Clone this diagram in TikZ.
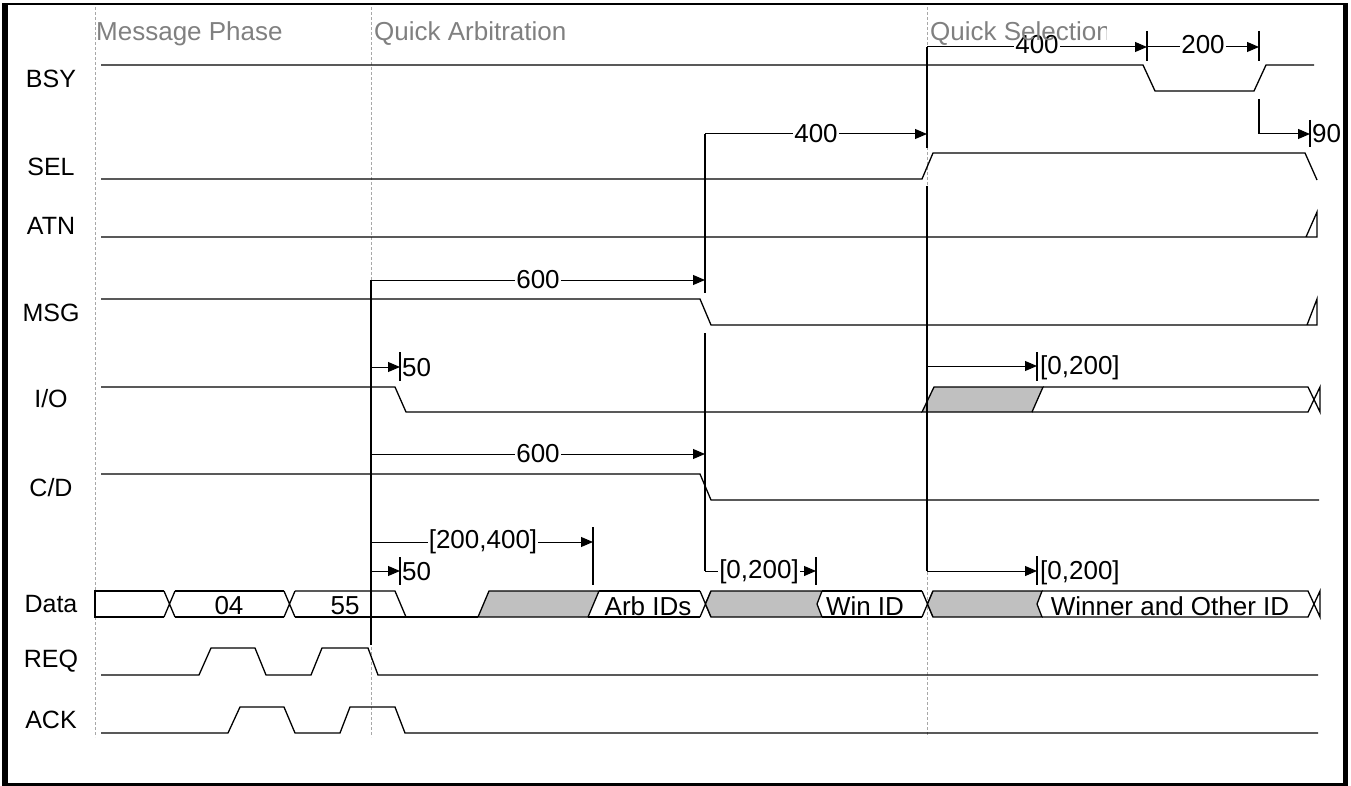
\documentclass[tikz,border=0pt]{standalone}
\usepackage{fontspec}
\setmainfont{Liberation Sans}
\usetikzlibrary{arrows.meta}
\definecolor{busgray}{HTML}{C0C0C0}
\definecolor{phasegray}{HTML}{808080}
\definecolor{dashgray}{HTML}{A8A8A8}
\begin{document}
\begin{tikzpicture}[x=1pt,y=-1pt,
  sig/.style={line width=1.3pt, line join=miter},
  bus/.style={sig, fill=busgray},
  arr/.style={line width=1pt, -{Triangle[length=12pt,width=10pt]}},
  tk/.style={line width=1.1pt},
  boldv/.style={line width=1.9pt},
  lbl/.style={font=\fontsize{26}{30}\selectfont, inner sep=1pt},
  onl/.style={lbl, fill=white},
  sname/.style={font=\fontsize{25}{28}\selectfont, inner sep=0pt},
  phlbl/.style={font=\fontsize{26}{30}\selectfont, text=phasegray, inner sep=0pt, anchor=base west},
  phase/.style={draw=dashgray, line width=0.8pt, dash pattern=on 3pt off 2pt}]
\useasboundingbox (0,0) rectangle (1351,786);
% frame
\fill (2,3) rectangle (1348,5);
\fill (2,3) rectangle (8,786);
\fill (1343,3) rectangle (1348,786);
\fill (2,783) rectangle (1348,786);
% phase separators
\foreach \x in {95,371,927} \draw[phase] (\x,7) -- (\x,737);
% signal names
\node[sname] (nBSY) at (51,79) {BSY};
\node[sname] (nSEL) at (51,167) {SEL};
\node[sname] (nATN) at (51,226) {ATN};
\node[sname] (nMSG) at (51,313) {MSG};
\node[sname] (nIO) at (51,399) {I/O};
\node[sname] (nCD) at (51,488) {C/D};
\node[sname] (nData) at (51,604) {Data};
\node[sname] (nREQ) at (51,661) {REQ};
\node[sname] (nACK) at (51,720) {ACK};
% BSY
\draw[sig] (101,65) -- (1143,65) -- (1155,91) -- (1254,91) -- (1266,65) -- (1314,65);
% SEL
\draw[sig] (101,179) -- (922,179) -- (933,153) -- (1305,153) -- (1317,180);
% ATN
\draw[sig] (101,237) -- (1317,237) -- (1317,212) -- (1306,237);
% MSG
\draw[sig] (101,299) -- (700,299) -- (711,325) -- (1317,325) -- (1317,299) -- (1307,325);
% I/O
\draw[sig] (101,387) -- (395,387) -- (406,412) -- (922,412);
\draw[bus] (922,412) -- (934,387) -- (1043,387) -- (1032,412) -- cycle;
\draw[sig] (1043,387) -- (1308,387) -- (1320,412) -- (1320,387) -- (1308,412) -- (1032,412);
% C/D
\draw[sig] (101,474) -- (700,474) -- (711,500) -- (1319,500);
% Data
\draw[sig] (164,591) -- (95,591) -- (95,617) -- (164,617);
\draw[sig] (164,591) -- (175,617) (164,617) -- (175,591);
\draw[sig] (175,591) -- (284,591) (175,617) -- (284,617);
\draw[sig] (284,591) -- (295,617) (284,617) -- (295,591);
\draw[sig] (295,591) -- (395,591) -- (406,617);
\draw[sig] (295,617) -- (478,617);
\draw[bus] (478,617) -- (489,591) -- (599,591) -- (588,617) -- cycle;
\draw[sig] (599,591) -- (700,591) (588,617) -- (700,617);
\draw[sig] (700,591) -- (711,617) (700,617) -- (711,591);
\draw[bus] (705.5,604) -- (711,591) -- (822,591) -- (817,604) -- (822,617) -- (711,617) -- cycle;
\draw[sig] (822,591) -- (922,591) (822,617) -- (922,617);
\draw[sig] (922,591) -- (933,617) (922,617) -- (933,591);
\draw[bus] (927.5,604) -- (933,591) -- (1042,591) -- (1037,604) -- (1042,617) -- (933,617) -- cycle;
\draw[sig] (1042,591) -- (1308,591) -- (1320,617) -- (1320,591) -- (1308,617) -- (1042,617);
\node[lbl] (d04) at (229,606) {04};
\node[lbl] (d55) at (345,606) {55};
\node[lbl] (dArb) at (648,606) {Arb IDs};
\node[lbl] (dWin) at (865,606) {Win ID};
\node[lbl] (dWinner) at (1170,606) {Winner and Other ID};
% REQ / ACK
\draw[sig] (101,675) -- (199,675) -- (211,648) -- (255,648) -- (266,675) -- (311,675) -- (322,648) -- (368,648) -- (378,675) -- (1318,675);
\draw[sig] (101,733) -- (228,733) -- (240,707) -- (284,707) -- (295,733) -- (340,733) -- (350,707) -- (395,707) -- (405,733) -- (1318,733);
% timing constraints
\draw[boldv] (371,280) -- (371,645);
\draw[arr] (371,280) -- (705,280);
\node[onl] (t600a) at (538,280) {600};
\draw[tk] (705,134) -- (705,293);
\draw[arr] (705,134) -- (927,134);
\node[onl] (t400a) at (816,134) {400};
\draw[boldv] (927,47) -- (927,148);
\draw[boldv] (927,186) -- (927,571);
\draw[arr] (927,47) -- (1147,47);
\node[onl] (t400b) at (1037,45) {400};
\draw[tk] (1147,31) -- (1147,61);
\draw[arr] (1147,47) -- (1259,47);
\node[onl] (t200) at (1203,45) {200};
\draw[tk] (1259,31) -- (1259,61);
\draw[tk] (1259,99) -- (1259,134);
\draw[arr] (1259,134) -- (1310,134);
\draw[tk] (1310,120) -- (1310,147);
\node[lbl, anchor=west] (t90) at (1311,134) {90};
\draw[arr] (371,367) -- (400,367);
\draw[tk] (400,352) -- (400,381);
\node[lbl, anchor=west] (t50a) at (401,368) {50};
\draw[arr] (371,454) -- (705,454);
\node[onl] (t600b) at (538,454) {600};
\draw[tk] (705,333) -- (705,571);
\draw[arr] (371,542) -- (593,542);
\draw[tk] (593,527) -- (593,585);
\node[onl] (t200400) at (483,542) {[200,400]};
\draw[arr] (371,571) -- (400,571);
\draw[tk] (400,557) -- (400,585);
\node[lbl, anchor=west] (t50b) at (401,572) {50};
\draw[arr] (705,571) -- (816,571);
\draw[tk] (816,557) -- (816,585);
\node[onl] (t0200a) at (759,572) {[0,200]};
\draw[arr] (927,366) -- (1037,366);
\draw[tk] (1037,352) -- (1037,381);
\node[lbl, anchor=west] (t0200b) at (1039,368) {[0,200]};
\draw[arr] (927,571) -- (1037,571);
\draw[tk] (1037,556) -- (1037,585);
\node[lbl, anchor=west] (t0200c) at (1039,573) {[0,200]};
% phase labels
\node[phlbl] (ph1) at (96,41) {Message Phase};
\node[phlbl] (ph2) at (374,41) {Quick Arbitration};
\begin{scope}
\clip (920,8) rectangle (1106,60);
\node[phlbl] (ph3) at (930,41) {Quick Selection};
\end{scope}
\end{tikzpicture}
\end{document}
